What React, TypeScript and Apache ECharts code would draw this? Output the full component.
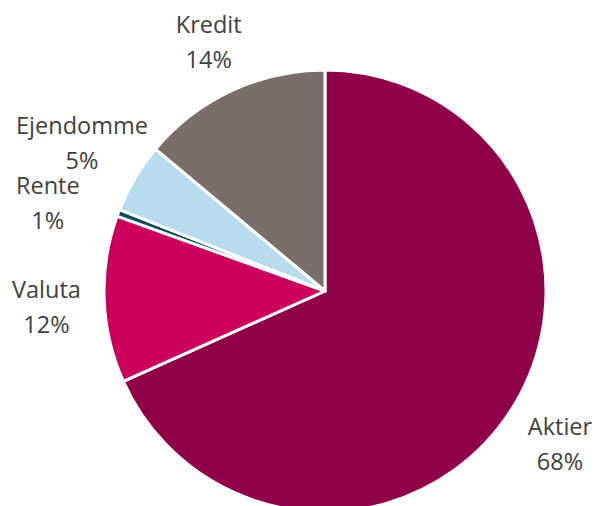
import React, { useEffect, useRef } from "react";
import * as echarts from "echarts";

const categories = ["Aktier", "Valuta", "Rente", "Ejendomme", "Kredit"];
const values = [68.3, 12.2, 0.5, 5.1, 13.9];
const colors = ["#8f0048", "#cc005c", "#0b4a5a", "#b8dcee", "#7a6e6d"];

const CX = 325;
const CY = 291;
const R = 221;
// label placement tweaks (degrees / px), layout only
const labelAngleShift = [0, -1, -3, 0.7, 0];
const labelRadius = [280, 279, 291, 285, 275];

export default function App() {
  const ref = useRef<HTMLDivElement>(null);
  useEffect(() => {
    if (!ref.current) return;
    const chart = echarts.init(ref.current, null, { renderer: "svg" });
    const total = values.reduce((a, b) => a + b, 0);
    const mids: number[] = [];
    let acc = 0;
    values.forEach((v) => {
      mids.push(((acc + v / 2) / total) * Math.PI * 2);
      acc += v;
    });
    chart.setOption({
      animation: false,
      backgroundColor: "#ffffff",
      series: [
        {
          type: "pie",
          center: [CX, CY],
          radius: R,
          startAngle: 90,
          clockwise: true,
          avoidLabelOverlap: false,
          itemStyle: { borderColor: "#ffffff", borderWidth: 3 },
          label: {
            show: true,
            position: "outside",
            formatter: (p: any) => `${p.name}\n${Math.round(p.value)}%`,
            fontFamily: "Open Sans",
            fontSize: 23.5,
            lineHeight: 35,
            color: "#404040",
            align: "center",
          },
          labelLine: { show: false },
          labelLayout: (p: any) => {
            const i = p.dataIndex;
            const a = mids[i] + (labelAngleShift[i] * Math.PI) / 180;
            const lr = labelRadius[i];
            return {
              x: CX + lr * Math.sin(a),
              y: CY - lr * Math.cos(a),
              align: "center",
              verticalAlign: "middle",
            };
          },
          data: categories.map((c, i) => ({
            name: c,
            value: values[i],
            itemStyle: { color: colors[i] },
          })),
        },
      ],
    });
    return () => chart.dispose();
  }, []);
  return (
    <div
      ref={ref}
      style={{ position: "absolute", left: 0, top: 0, width: 596, height: 506 }}
    />
  );
}
